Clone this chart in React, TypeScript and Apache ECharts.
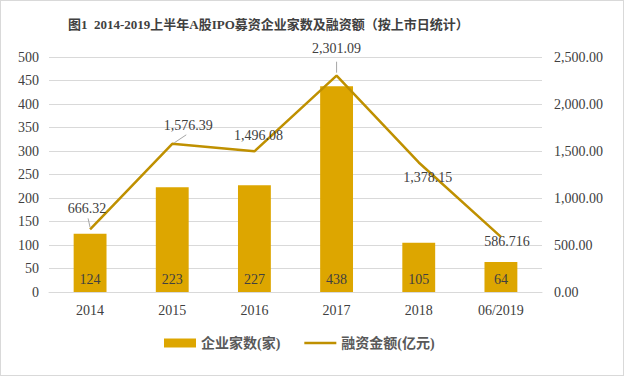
import React, { useEffect, useRef } from "react";
import * as echarts from "echarts";

const categories = ["2014", "2015", "2016", "2017", "2018", "06/2019"];
const companyCounts = [124, 223, 227, 438, 105, 64];
const financingAmounts = [666.32, 1576.39, 1496.08, 2301.09, 1378.15, 586.716];
const amountLabels = ["666.32", "1,576.39", "1,496.08", "2,301.09", "1,378.15", "586.716"];
const labelShifts = [
  [-3, -8],
  [16, -6],
  [4, -3],
  [0, -15],
  [9, 28],
  [6, 17],
];
// leader line: [startDx, startDy, endDx, endDy] relative to the data point, or null
const leaderLines: (number[] | null)[] = [
  [0, -2, -2, -11],
  [2, -1, 14, -9],
  null,
  [0, -3, 0, -14],
  null,
  null,
];

const SERIF = "'Liberation Serif', 'Times New Roman', serif";
const CJK = "'Liberation Serif', 'Noto Sans CJK SC', serif";

export default function App() {
  const ref = useRef<HTMLDivElement>(null);
  useEffect(() => {
    const chart = echarts.init(ref.current!, null, { renderer: "svg" });
    chart.setOption({
      animation: false,
      backgroundColor: "#ffffff",
      title: {
        text: "图1  2014-2019上半年A股IPO募资企业家数及融资额（按上市日统计）",
        left: 62,
        top: 12,
        textStyle: { fontFamily: CJK, fontSize: 13, fontWeight: "bold", color: "#404040" },
      },
      grid: { left: 48, right: 81, top: 56, bottom: 83 },
      legend: {
        bottom: 20,
        left: 158,
        itemWidth: 32,
        itemHeight: 9,
        itemGap: 24,
        textStyle: { fontFamily: CJK, fontSize: 14, fontWeight: "bold", color: "#595959" },
        data: [
          { name: "企业家数(家)", icon: "rect" },
          {
            name: "融资金额(亿元)",
            icon: "path://M0,0L32,0L32,2.5L0,2.5Z",
            itemStyle: { color: "#BF9000", opacity: 1 },
          },
        ],
      },
      xAxis: {
        type: "category",
        data: categories,
        axisLine: { lineStyle: { color: "#D9D9D9" } },
        axisTick: { show: false },
        axisLabel: { fontFamily: SERIF, fontSize: 14, color: "#404040", margin: 11 },
      },
      yAxis: [
        {
          type: "value",
          min: 0,
          max: 500,
          interval: 50,
          axisLine: { show: false },
          axisTick: { show: false },
          splitLine: { lineStyle: { color: "#D9D9D9" } },
          axisLabel: { fontFamily: SERIF, fontSize: 14, color: "#404040", margin: 10 },
        },
        {
          type: "value",
          min: 0,
          max: 2500,
          interval: 500,
          axisLine: { show: false },
          axisTick: { show: false },
          splitLine: { show: false },
          axisLabel: {
            fontFamily: SERIF,
            fontSize: 14,
            color: "#404040",
            margin: 12,
            formatter: (v: number) =>
              v.toLocaleString("en-US", { minimumFractionDigits: 2, maximumFractionDigits: 2 }),
          },
        },
      ],
      series: [
        {
          name: "企业家数(家)",
          type: "bar",
          data: companyCounts,
          barWidth: "40%",
          itemStyle: { color: "#DDA600" },
          label: {
            show: true,
            position: "insideBottom",
            distance: 6,
            fontFamily: SERIF,
            fontSize: 14,
            color: "#404040",
          },
        },
        {
          name: "融资金额(亿元)",
          type: "line",
          yAxisIndex: 1,
          data: financingAmounts,
          symbol: "circle",
          symbolSize: 1,
          showSymbol: true,
          lineStyle: { color: "#BF9000", width: 2.5 },
          itemStyle: { color: "#BF9000", opacity: 0 },
          z: 5,
          label: {
            show: true,
            position: "top",
            fontFamily: SERIF,
            fontSize: 14,
            color: "#404040",
            opacity: 1,
            formatter: (p: any) => amountLabels[p.dataIndex],
          },
          labelLayout: (p: any) => ({
            dx: labelShifts[p.dataIndex][0],
            dy: labelShifts[p.dataIndex][1],
          }),
        },
      ],
    });
    const leaders: any[] = [];
    financingAmounts.forEach((v, i) => {
      const l = leaderLines[i];
      if (!l) return;
      const pt = chart.convertToPixel({ seriesIndex: 1 }, [i, v]) as number[];
      if (!pt) return;
      leaders.push({
        type: "line",
        z: 10,
        shape: { x1: pt[0] + l[0], y1: pt[1] + l[1], x2: pt[0] + l[2], y2: pt[1] + l[3] },
        style: { stroke: "#A6A6A6", lineWidth: 1 },
      });
    });
    chart.setOption({ graphic: leaders });
    return () => chart.dispose();
  }, []);
  return (
    <div
      style={{
        position: "fixed",
        left: 0,
        top: 0,
        width: 624,
        height: 376,
        boxSizing: "border-box",
        border: "1px solid #D9D9D9",
        background: "#fff",
      }}
    >
      <div ref={ref} style={{ width: 622, height: 374 }} />
    </div>
  );
}
